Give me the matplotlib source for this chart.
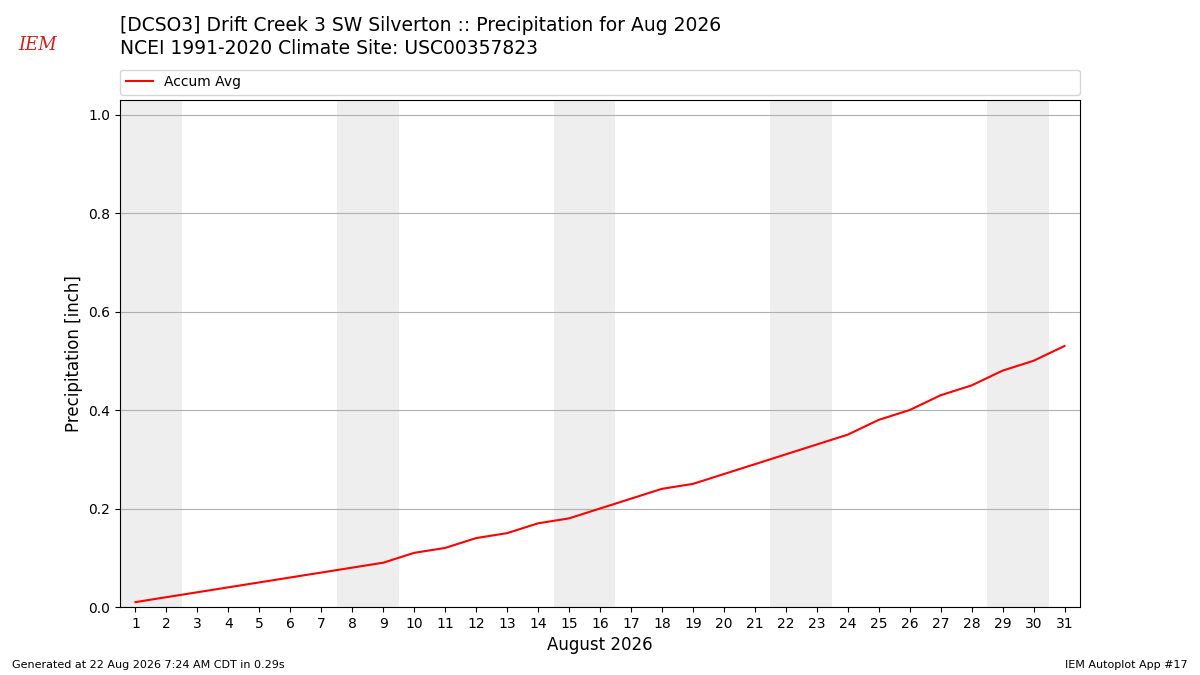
import matplotlib
matplotlib.use("Agg")
import matplotlib.pyplot as plt

days = list(range(1, 32))
accum_avg = [0.01, 0.02, 0.03, 0.04, 0.05, 0.06, 0.07, 0.08, 0.09, 0.11,
             0.12, 0.14, 0.15, 0.17, 0.18, 0.20, 0.22, 0.24, 0.25, 0.27,
             0.29, 0.31, 0.33, 0.35, 0.38, 0.40, 0.43, 0.45, 0.48, 0.50, 0.53]
weekend_starts = [1, 8, 15, 22, 29]
title_lines = ["[DCSO3] Drift Creek 3 SW Silverton :: Precipitation for Aug 2026",
               "NCEI 1991-2020 Climate Site: USC00357823"]

fig = plt.figure(figsize=(12, 6.75), dpi=100)
ax = fig.add_axes([0.1, 0.1007, 0.8, 0.7515])

for s in weekend_starts:
    ax.axvspan(s - 0.5, s + 1.5, color="#eeeeee", zorder=0, lw=0)

ax.plot(days, accum_avg, color="red", lw=1.5, label="Accum Avg", zorder=3)
ax.set_xlim(0.5, 31.5)
ax.set_ylim(0, 1.03)
ax.set_xticks(days)
ax.set_yticks([0.0, 0.2, 0.4, 0.6, 0.8, 1.0])
ax.yaxis.grid(True, color="#b0b0b0", lw=0.8, zorder=1)
ax.set_axisbelow(True)
ax.set_xlabel("August 2026", fontsize=12)
ax.set_ylabel("Precipitation [inch]", fontsize=12)
ax.tick_params(labelsize=10)

ax.legend(loc="lower left", bbox_to_anchor=(0, 1.01, 1, 0.05), mode="expand",
          ncol=1, fontsize=10, borderaxespad=0)

fig.text(0.1, 0.962, title_lines[0], fontsize=13.5, va="center", ha="left")
fig.text(0.1, 0.928, title_lines[1], fontsize=13.5, va="center", ha="left")

fig.text(0.031, 0.933, "IEM", fontsize=13, color="#d02020", family="DejaVu Serif",
         style="italic", ha="center", va="center")

fig.text(0.01, 0.015, "Generated at 22 Aug 2026 7:24 AM CDT in 0.29s", fontsize=8,
         ha="left", va="center")
fig.text(0.99, 0.015, "IEM Autoplot App #17", fontsize=8, ha="right", va="center")

fig.savefig("out.png", dpi=100)
